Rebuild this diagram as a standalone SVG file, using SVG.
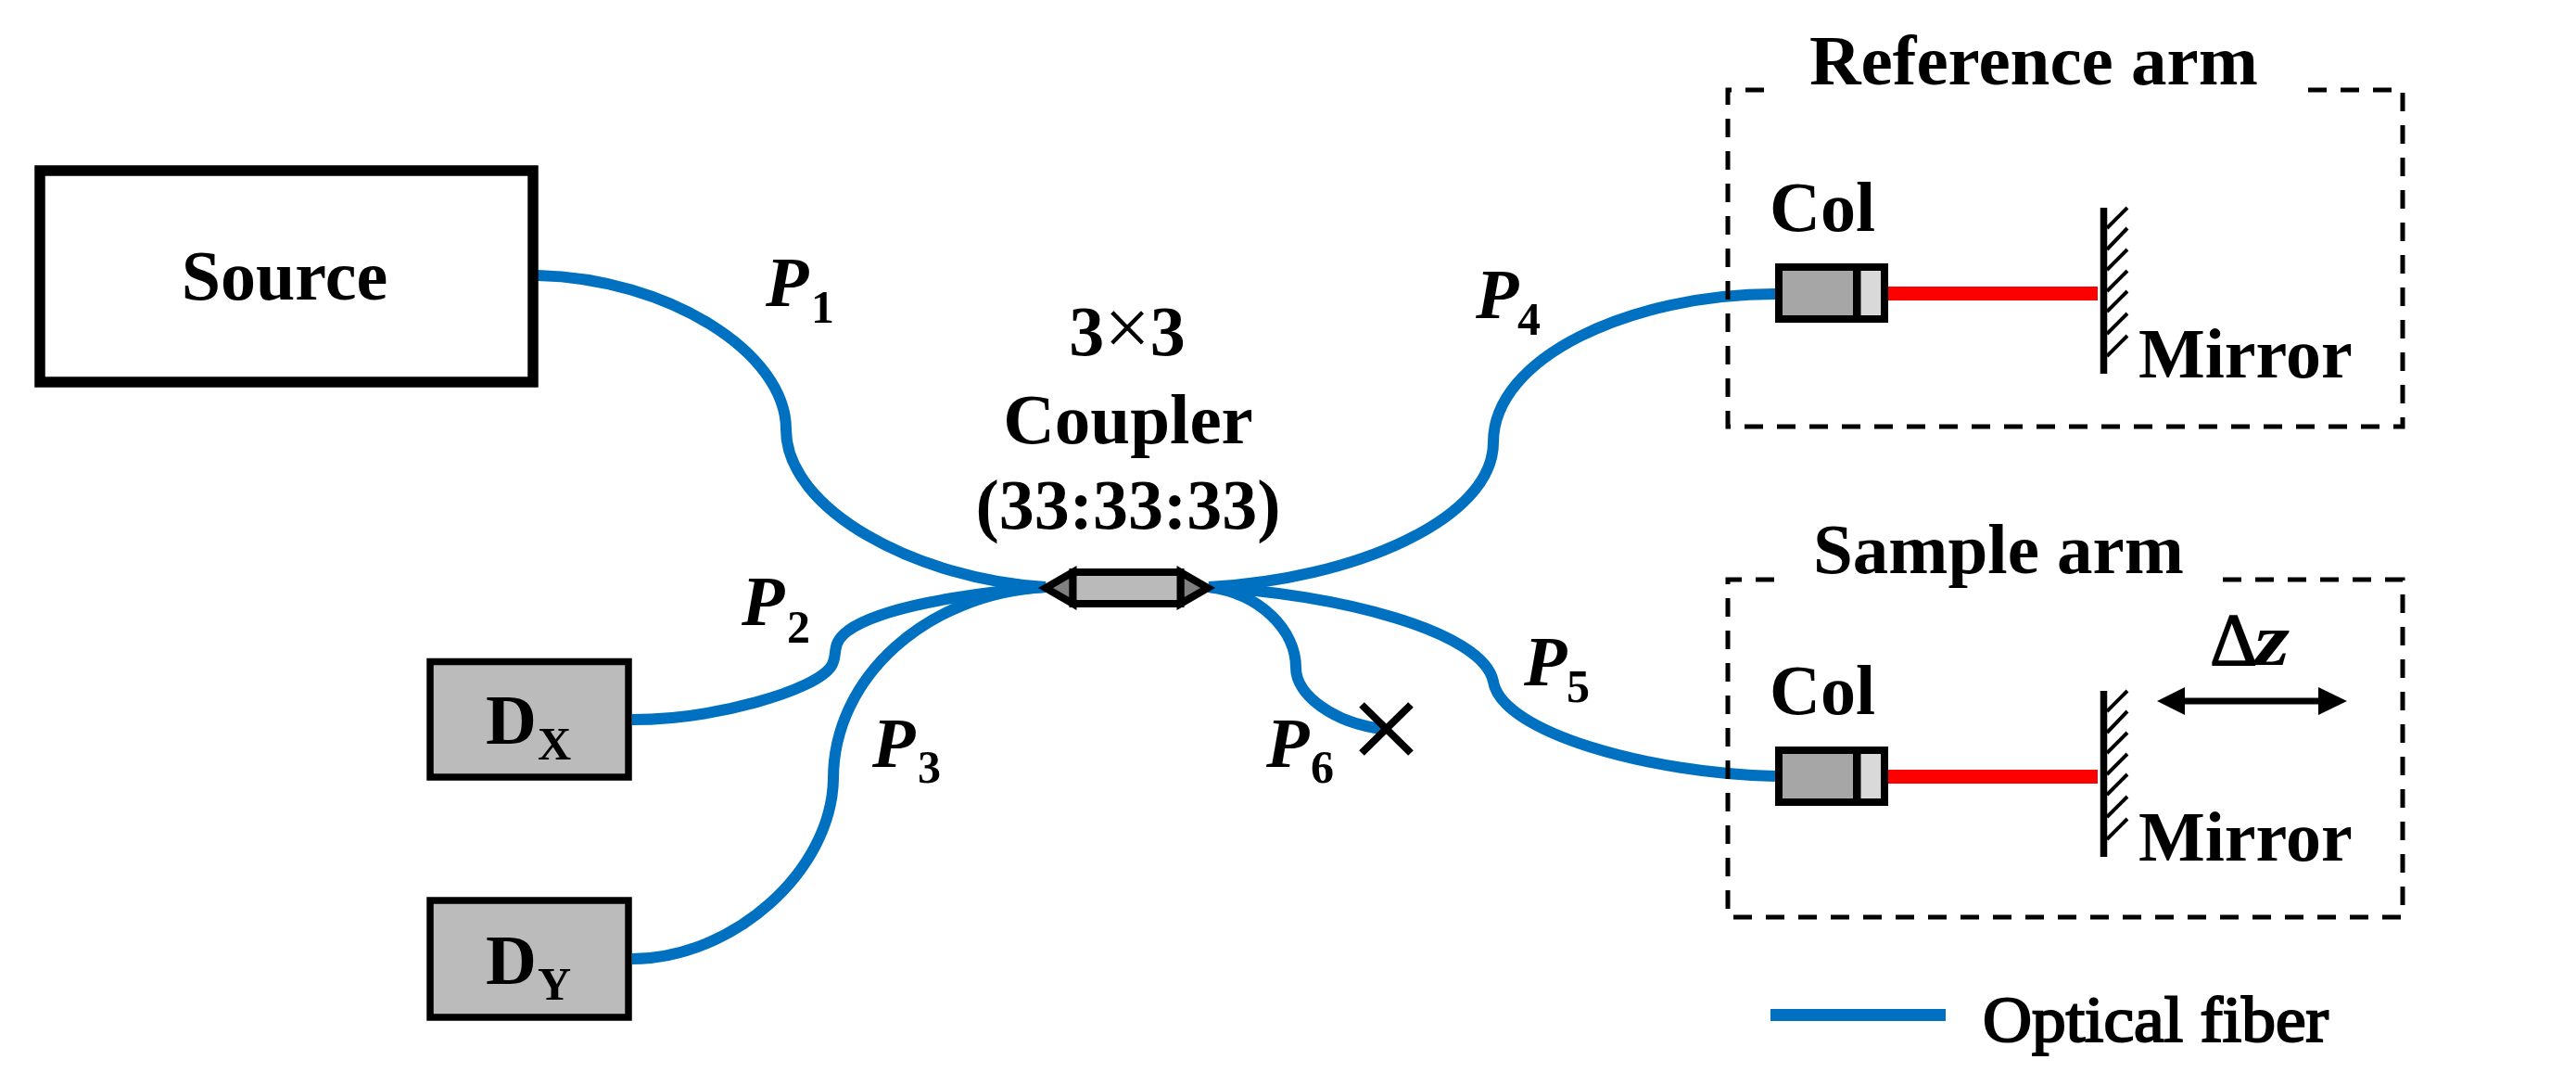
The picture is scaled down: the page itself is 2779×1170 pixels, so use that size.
<svg xmlns="http://www.w3.org/2000/svg" width="2779" height="1170" viewBox="0 0 2779 1170">
<style>
text{font-family:"Liberation Serif","Times New Roman",serif;font-weight:bold;font-size:76px;fill:#000}
.i{font-style:italic}
.sub{font-size:50px;font-style:normal}
.c{text-anchor:middle}
.r{font-weight:normal}
.fiber{fill:none;stroke:#0070C0;stroke-width:12;stroke-linecap:butt}
.box{stroke:#000;stroke-width:7.5;fill:#BBBBBB}
.k{stroke:#000;stroke-width:8}
.dash{fill:none;stroke:#000;stroke-width:5;stroke-dasharray:20 15}
.beam{stroke:#FF0000;stroke-width:15}
.hatch{stroke:#000;stroke-width:4;fill:none}
</style>
<defs>
<g id="col"><rect x="1919" y="288" width="84" height="56" fill="#A6A6A6" class="k"/><rect x="2003.5" y="288" width="29.5" height="56" fill="#D9D9D9" class="k"/></g>
<g id="mir"><path d="M2269.5 224V403" stroke="#000" stroke-width="7.5"/><path class="hatch" d="M2273 246L2295 224M2273 269L2295 246M2273 291L2295 269M2273 314L2295 292M2273 336L2295 314M2273 360L2295 338M2273 384L2295 362"/></g>
</defs>
<rect width="2779" height="1170" fill="#fff"/>
<g id="connectors">
<path class="fiber" d="M580 297C720 300 848 380 848 463C848 550 990 625 1128 633"/>
<path class="fiber" d="M682 776C770 776 880 745 897 718C905 705 895 695 915 680C950 655 1040 640 1128 633"/>
<path class="fiber" d="M682 1034C790 1034 897 940 899 840C899 730 1000 640 1128 633"/>
<path class="fiber" d="M1915 317C1760 317 1611 385 1611 477C1611 560 1460 625 1304 633"/>
<path class="fiber" d="M1304 633C1440 640 1600 680 1611 735C1620 790 1780 834 1915 837"/>
<path class="fiber" d="M1304 633C1360 640 1398 680 1398 720C1398 750 1440 780 1492 786"/>
<path class="beam" d="M2036 316.5H2263"/>
<path class="beam" d="M2036 837.5H2263"/>
</g>
<g id="source"><rect x="43" y="184" width="532" height="228" fill="#fff" stroke="#000" stroke-width="11.5"/><text x="307" y="323" class="c">Source</text></g>
<g id="dx"><rect class="box" x="464" y="713.5" width="214" height="124.5"/><text x="524" y="802">D</text><text x="580" y="819" class="sub">X</text></g>
<g id="dy"><rect class="box" x="464" y="971" width="214" height="126"/><text x="524" y="1061">D</text><text x="580" y="1078" class="sub">Y</text></g>
<g id="coupler"><path d="M1157.5 617L1128 634L1157.5 651Z M1273.5 617L1303 634L1273.5 651Z" fill="#808080" class="k" stroke-linejoin="miter"/><rect class="k" x="1157.5" y="617" width="116" height="34" fill="#BABABA"/>
<text x="1216" y="383" class="c">3<tspan class="r" style="font-size:88px">×</tspan>3</text><text x="1217" y="478" class="c" style="font-size:77px">Coupler</text><text x="1217" y="570" class="c" style="font-size:76px">(33:33:33)</text></g>
<g id="labels">
<text x="826" y="330" class="i">P</text><text x="875" y="348" class="sub">1</text>
<text x="800" y="674" class="i">P</text><text x="849" y="693" class="sub">2</text>
<text x="941" y="827" class="i">P</text><text x="990" y="844" class="sub">3</text>
<text x="1592" y="343" class="i">P</text><text x="1637" y="361" class="sub">4</text>
<text x="1644" y="739" class="i">P</text><text x="1690" y="757" class="sub">5</text>
<text x="1366" y="827" class="i">P</text><text x="1414" y="844" class="sub">6</text>
</g>
<g id="terminator"><path class="k" d="M1469 760L1522 812M1522 760L1469 812" fill="none"/></g>
<g id="reference-arm"><path class="dash" d="M2490 97H2592V460H1864V97H1913"/><text x="1952" y="91" style="font-size:77px">Reference arm</text>
<use href="#col"/><text x="1909" y="249">Col</text><use href="#mir"/><text x="2307" y="407">Mirror</text></g>
<g id="sample-arm"><path class="dash" d="M2398 625H2592V989H1864V625H1914"/><text x="1956" y="618" style="font-size:77px">Sample arm</text>
<use href="#col" y="521"/><text x="1909" y="770">Col</text><use href="#mir" y="521"/><text x="2307" y="928">Mirror</text>
<path d="M2350 756H2510" stroke="#000" stroke-width="7"/><path d="M2327 756L2357 741V771ZM2532 756L2501 741V771Z" fill="#000"/>
<text x="2384" y="717" class="r" style="font-size:80px;stroke:#000;stroke-width:1.5">Δ</text><text x="2432" y="717" class="i" textLength="38" lengthAdjust="spacingAndGlyphs" style="font-size:80px">z</text></g>
<g id="legend"><path d="M1910 1094.5H2099" stroke="#0070C0" stroke-width="13"/><text x="2139" y="1123" class="r" textLength="373" lengthAdjust="spacingAndGlyphs" style="font-size:70px;stroke:#000;stroke-width:2.2">Optical fiber</text></g>
</svg>
